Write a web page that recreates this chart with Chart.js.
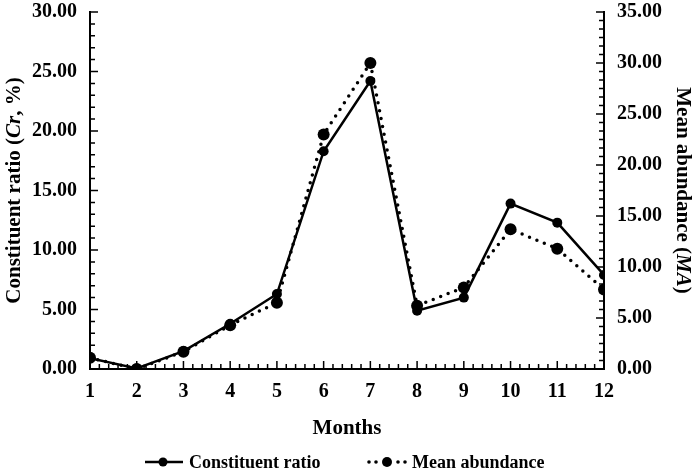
<!DOCTYPE html>
<html>
<head>
<meta charset="utf-8">
<script src="https://cdn.jsdelivr.net/npm/chart.js@4.4.1/dist/chart.umd.min.js"></script>
<style>
  html, body { margin: 0; padding: 0; background: #fff; }
  #wrap { position: relative; width: 694px; height: 473px; }
  .legend { position: absolute; font: bold 18px 'Liberation Serif', 'Times New Roman', serif; color: #000; line-height: 20px; white-space: nowrap; }
  .legend canvas { position: absolute; }
</style>
</head>
<body>
<div id="wrap">
  <canvas id="chart" width="694" height="473"></canvas>
  <div class="legend" id="legend"></div>
</div>
<script>
const months = [1, 2, 3, 4, 5, 6, 7, 8, 9, 10, 11, 12];
const constituentRatio = [0.9, 0.05, 1.5, 3.8, 6.3, 18.3, 24.2, 4.9, 6.0, 13.9, 12.3, 7.9];
const meanAbundance = [1.1, 0.0, 1.7, 4.3, 6.5, 23.0, 30.0, 6.2, 8.0, 13.7, 11.8, 7.8];
const leftTicks = [0, 5, 10, 15, 20, 25, 30];
const rightTicks = [0, 5, 10, 15, 20, 25, 30, 35];
const seriesNames = ["Constituent ratio", "Mean abundance"];

const FONT = "'Liberation Serif', 'Times New Roman', serif";

// inward major/minor ticks + axis titles with italic parts
const axisExtras = {
    id: "axisExtras",
    afterDraw(chart) {
        const ctx = chart.ctx;
        const { x, y, y1 } = chart.scales;
        ctx.save();
        ctx.strokeStyle = "#000";
        ctx.lineWidth = 1.5;
        ctx.beginPath();
        for (let i = 0; i <= 30; i++) {
            const p = y.getPixelForValue(i);
            ctx.moveTo(x.left, p); ctx.lineTo(x.left + (i % 5 === 0 ? 8 : 5), p);
        }
        for (let i = 0; i <= 42; i++) {
            const p = y1.getPixelForValue(i * 35 / 42);
            ctx.moveTo(x.right, p); ctx.lineTo(x.right - (i % 6 === 0 ? 8 : 5), p);
        }
        for (let i = 0; i <= 55; i++) {
            const p = x.getPixelForValue(1 + i / 5);
            ctx.moveTo(p, y.bottom); ctx.lineTo(p, y.bottom - (i % 5 === 0 ? 8 : 5));
        }
        ctx.stroke();

        const drawTitle = (parts, cx, cy, rot) => {
            ctx.save();
            ctx.translate(cx, cy);
            ctx.rotate(rot);
            ctx.fillStyle = "#000";
            ctx.textBaseline = "middle";
            let total = 0;
            parts.forEach(p => { ctx.font = p[1] + " 21px " + FONT; total += ctx.measureText(p[0]).width; });
            let pos = -total / 2;
            parts.forEach(p => {
                ctx.font = p[1] + " 21px " + FONT;
                ctx.fillText(p[0], pos, 0);
                pos += ctx.measureText(p[0]).width;
            });
            ctx.restore();
        };
        const midY = (y.top + y.bottom) / 2;
        drawTitle([["Constituent ratio (", "bold"], ["Cr", "italic bold"], [", %)", "bold"]], 15, midY, -Math.PI / 2);
        drawTitle([["Mean abundance (", "bold"], ["MA", "italic bold"], [")", "bold"]], 682, midY, Math.PI / 2);
        ctx.restore();
    }
};

const fitY = s => { s.width = 90; s.paddingTop = 0; s.paddingBottom = 0; };

new Chart(document.getElementById("chart"), {
    type: "line",
    data: {
        datasets: [
            {
                label: seriesNames[0],
                data: months.map((m, i) => ({ x: m, y: constituentRatio[i] })),
                yAxisID: "y",
                borderColor: "#000",
                backgroundColor: "#000",
                borderWidth: 2.5,
                pointRadius: 5,
                pointBorderWidth: 0,
                tension: 0
            },
            {
                label: seriesNames[1],
                data: months.map((m, i) => ({ x: m, y: meanAbundance[i] })),
                yAxisID: "y1",
                borderColor: "#000",
                backgroundColor: "#000",
                borderWidth: 3.5,
                borderDash: [0, 8],
                borderCapStyle: "round",
                pointRadius: 6,
                pointBorderWidth: 0,
                tension: 0
            }
        ]
    },
    options: {
        responsive: false,
        animation: false,
        layout: { padding: { top: 12, left: 0, right: 0, bottom: 32 } },
        plugins: {
            tooltip: { enabled: false },
            legend: { display: false }
        },
        scales: {
            x: {
                type: "linear",
                min: 1,
                max: 12,
                afterFit: s => { s.height = 72; },
                grid: { display: false, drawTicks: false },
                border: { display: true, color: "#000", width: 2 },
                ticks: {
                    stepSize: 1,
                    color: "#000",
                    padding: 11,
                    font: { family: FONT, size: 20, weight: "bold" }
                },
                title: {
                    display: true,
                    text: "Months",
                    color: "#000",
                    padding: { top: 0, bottom: 0 },
                    font: { family: FONT, size: 21, weight: "bold" }
                }
            },
            y: {
                position: "left",
                min: 0,
                max: 30,
                afterFit: fitY,
                afterBuildTicks: s => { s.ticks = leftTicks.map(v => ({ value: v })); },
                grid: { display: false, drawTicks: false },
                border: { display: true, color: "#000", width: 2 },
                ticks: {
                    color: "#000",
                    padding: 13,
                    font: { family: FONT, size: 20, weight: "bold" },
                    callback: v => v.toFixed(2)
                }
            },
            y1: {
                position: "right",
                min: 0,
                max: 35,
                afterFit: fitY,
                afterBuildTicks: s => { s.ticks = rightTicks.map(v => ({ value: v })); },
                grid: { display: false, drawTicks: false },
                border: { display: true, color: "#000", width: 2 },
                ticks: {
                    color: "#000",
                    padding: 13,
                    font: { family: FONT, size: 20, weight: "bold" },
                    callback: v => v.toFixed(2)
                }
            }
        }
    },
    plugins: [axisExtras]
});

// legend below the chart, line + dot samples
const legend = document.getElementById("legend");
legend.style.left = "0px";
legend.style.top = "452px";
const legendItems = [
    { name: seriesNames[0], dotted: false, sampleX: 145, textX: 189 },
    { name: seriesNames[1], dotted: true, sampleX: 366, textX: 412 }
];
legendItems.forEach(item => {
    const c = document.createElement("canvas");
    c.width = 42; c.height = 14;
    c.style.left = item.sampleX + "px";
    c.style.top = "3px";
    const g = c.getContext("2d");
    g.fillStyle = "#000";
    g.strokeStyle = "#000";
    if (item.dotted) {
        [3, 10, 32, 39].forEach(px => { g.beginPath(); g.arc(px, 7, 1.8, 0, Math.PI * 2); g.fill(); });
        g.beginPath(); g.arc(21, 7, 5, 0, Math.PI * 2); g.fill();
    } else {
        g.lineWidth = 2.5;
        g.beginPath(); g.moveTo(0, 7); g.lineTo(38, 7); g.stroke();
        g.beginPath(); g.arc(18, 7, 4.5, 0, Math.PI * 2); g.fill();
    }
    legend.appendChild(c);
    const span = document.createElement("span");
    span.textContent = item.name;
    span.style.position = "absolute";
    span.style.left = item.textX + "px";
    span.style.top = "0px";
    legend.appendChild(span);
});
</script>
</body>
</html>
